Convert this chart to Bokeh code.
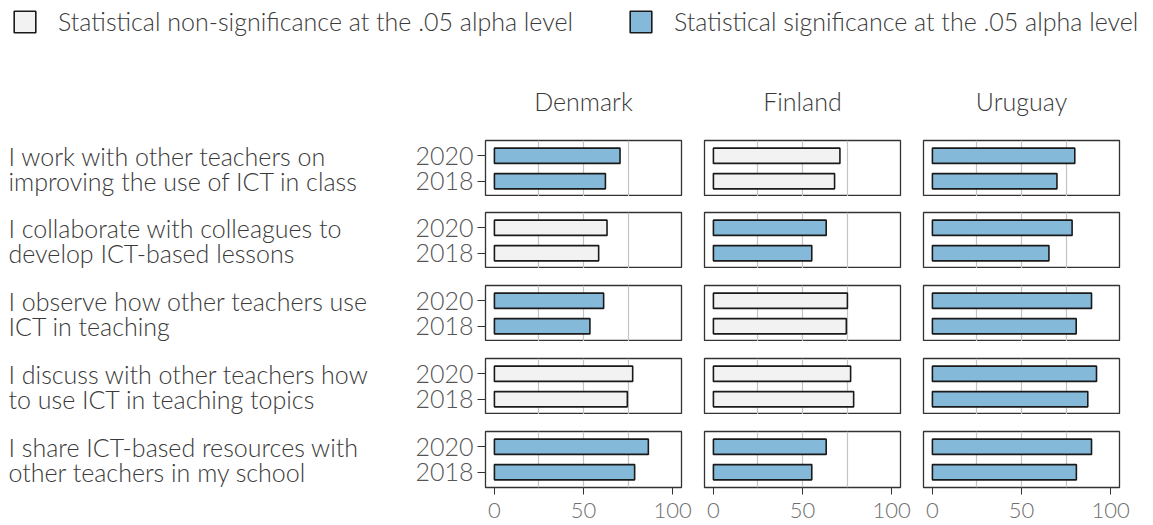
from bokeh.plotting import figure
from bokeh.models import FactorRange, Range1d, FixedTicker, Grid, Legend, LegendItem, ColumnDataSource
from bokeh.layouts import column, row
from bokeh.embed import file_html
from bokeh.resources import INLINE
from bokeh.core.properties import value

# ---------------- data ----------------
items = [
    "I work with other teachers on\nimproving the use of ICT in class",
    "I collaborate with colleagues to\ndevelop ICT-based lessons",
    "I observe how other teachers use\nICT in teaching",
    "I discuss with other teachers how\nto use ICT in teaching topics",
    "I share ICT-based resources with\nother teachers in my school",
]
countries = ["Denmark", "Finland", "Uruguay"]
years = ["2018", "2020"]

denmark_2020 = [70.5, 63.2, 61.3, 77.6, 86.4]
denmark_2018 = [62.3, 58.5, 53.6, 74.6, 78.7]
finland_2020 = [71.0, 63.3, 75.2, 77.0, 63.3]
finland_2018 = [68.0, 55.2, 74.6, 78.7, 55.2]
uruguay_2020 = [79.9, 78.4, 89.3, 92.1, 89.3]
uruguay_2018 = [69.9, 65.4, 80.7, 87.2, 80.8]

denmark_sig = [True, False, True, False, True]
finland_sig = [False, True, False, False, True]
uruguay_sig = [True, True, True, True, True]

legend_labels = [
    "Statistical non-significance at the .05 alpha level",
    "Statistical significance at the .05 alpha level",
]
x_ticks = [0, 50, 100]
grid_ticks = [25, 50, 75]

values_2020 = {"Denmark": denmark_2020, "Finland": finland_2020, "Uruguay": uruguay_2020}
values_2018 = {"Denmark": denmark_2018, "Finland": finland_2018, "Uruguay": uruguay_2018}
signif = {"Denmark": denmark_sig, "Finland": finland_sig, "Uruguay": uruguay_sig}

# ---------------- style ----------------
FONT = "'Lato Light', Lato"
SIG = "#85b9da"
NONSIG = "#f2f2f2"
EDGE = "#1a1a1a"
BORDER = "#333333"
GRID = "#c4c4c4"
TEXT = "#3a3a3a"
FS = "25px"
FS_X = "22px"

FRAME_W, FRAME_H = 196, 56
LABEL_W = 400
side = {"Denmark": (85, 12), "Finland": (11, 12), "Uruguay": (11, 34)}
LEG_H = 44
tops = [96, 16, 17, 17, 17]
BOTTOM = 38
TOTAL_W = LABEL_W + sum(FRAME_W + a + b for a, b in side.values())


def base_fig(r, left, right, **kw):
    last_row = r == len(items) - 1
    return figure(
        frame_width=kw.pop("frame_width", FRAME_W), frame_height=FRAME_H,
        y_range=FactorRange(factors=years, range_padding=0.1),
        output_backend="svg", toolbar_location=None,
        min_border_left=left, min_border_right=right,
        min_border_top=tops[r], min_border_bottom=BOTTOM if last_row else 0,
        background_fill_color="white", border_fill_color="white",
        **kw,
    )


def panel(r, c):
    country = countries[c]
    first_col = c == 0
    last_row = r == len(items) - 1
    kw = {}
    if r == 0:
        kw["title"] = country
    p = base_fig(
        r, side[country][0], side[country][1],
        x_range=Range1d(-5, 105),
        x_axis_location="below" if last_row else None,
        y_axis_location="left" if first_col else None,
        outline_line_color=BORDER, outline_line_width=1.3,
        **kw,
    )
    p.grid.visible = False
    p.add_layout(Grid(dimension=0, ticker=FixedTicker(ticks=grid_ticks),
                      grid_line_color=GRID, grid_line_width=1.2))
    color = SIG if signif[country][r] else NONSIG
    src = ColumnDataSource(dict(year=["2020", "2018"],
                                val=[values_2020[country][r], values_2018[country][r]]))
    p.hbar(y="year", left=0, right="val", height=0.6, source=src,
           fill_color=color, line_color=EDGE, line_width=1.6)
    if first_col:
        ax = p.yaxis[0]
        ax.axis_line_color = None
        ax.major_tick_out = 8
        ax.major_tick_in = 0
        ax.major_tick_line_color = BORDER
        ax.major_label_text_font = FONT
        ax.major_label_text_font_size = FS
        ax.major_label_text_color = "#555555"
        ax.major_label_standoff = 4
    if last_row:
        ax = p.xaxis[0]
        ax.ticker = FixedTicker(ticks=x_ticks)
        ax.axis_line_color = None
        ax.major_tick_out = 7
        ax.major_tick_in = 0
        ax.minor_tick_line_color = None
        ax.major_tick_line_color = BORDER
        ax.major_label_text_font = FONT
        ax.major_label_text_font_size = FS_X
        ax.major_label_text_color = "#6e6e6e"
        ax.major_label_standoff = 8
    if r == 0:
        p.title.text_font = FONT
        p.title.text_font_size = FS
        p.title.text_font_style = "normal"
        p.title.text_color = TEXT
        p.title.align = "center"
        p.title.standoff = 49
    return p


def label_fig(r):
    lf = base_fig(r, 0, 0, frame_width=LABEL_W, x_range=Range1d(0, 1),
                  x_axis_location=None, y_axis_location=None, outline_line_color=None)
    lf.grid.visible = False
    lines = items[r].split("\n")
    src = ColumnDataSource(dict(line=lines, year=["2020", "2018"]))
    lf.text(x=0, y="year", text="line", source=src, text_font=value(FONT), text_font_size=FS,
            text_baseline="middle", text_align="left", text_color=TEXT, x_offset=8)
    return lf


# legend
lg = figure(width=TOTAL_W, height=LEG_H,
            x_range=Range1d(0, 1), y_range=Range1d(0, 1),
            x_axis_location=None, y_axis_location=None, outline_line_color=None,
            min_border=0, min_border_left=5, toolbar_location=None, output_backend="svg")
lg.grid.visible = False
key_src = ColumnDataSource(dict(left=[0], right=[0], top=[0], bottom=[0]))
r_ns = lg.quad(left="left", right="right", top="top", bottom="bottom", source=key_src,
               fill_color=NONSIG, line_color=EDGE, line_width=1.6)
r_s = lg.quad(left="left", right="right", top="top", bottom="bottom", source=key_src,
              fill_color=SIG, line_color=EDGE, line_width=1.6)
r_ns.visible = False
r_s.visible = False
legend = Legend(
    items=[LegendItem(label=legend_labels[0], renderers=[r_ns]),
           LegendItem(label=legend_labels[1], renderers=[r_s])],
    orientation="horizontal", location="top_left", margin=6, padding=0,
    spacing=54, glyph_width=27, glyph_height=27, label_standoff=20,
    label_text_font=FONT, label_text_font_size=FS, label_text_color=TEXT,
    background_fill_alpha=0, border_line_color=None, inactive_fill_alpha=0,
)
lg.add_layout(legend)

rows = [lg]
for r in range(len(items)):
    rows.append(row(label_fig(r), *[panel(r, c) for c in range(len(countries))]))
layout = column(*rows)

open("out.html", "w").write(file_html(layout, INLINE))
